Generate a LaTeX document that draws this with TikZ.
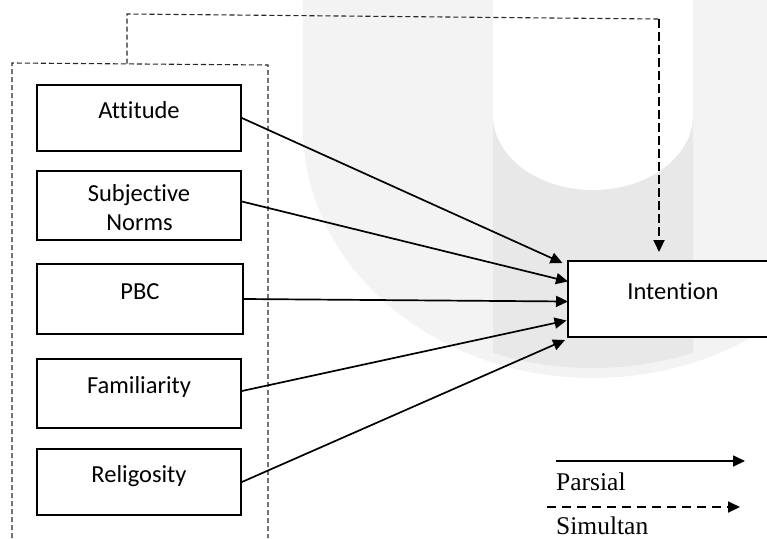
\documentclass[tikz,border=0pt]{standalone}
\usepackage{fontspec}
\setmainfont{Liberation Serif}
\newfontfamily\boxfont[Ligatures=NoCommon]{Carlito}
\usetikzlibrary{arrows.meta,calc}
\definecolor{wmlight}{RGB}{243,243,243}
\definecolor{wmdark}{RGB}{232,232,232}
\begin{document}
\begin{tikzpicture}[x=1pt,y=-1pt,
  boxnode/.style={draw=black, line width=1.8pt, fill=white, rectangle, inner sep=0pt, text height=8pt, text depth=8pt, font=\boxfont\fontsize{24.5}{28}\selectfont},
  lbl/.style={font=\boxfont\fontsize{24.5}{28}\selectfont, anchor=base, inner sep=0pt},
  conn/.style={line width=1.7pt, -{Triangle[length=12pt,width=11pt]}},
  frame/.style={line width=1.1pt, dash pattern=on 5pt off 3pt, black!85},
  simul/.style={line width=1.8pt, dash pattern=on 8.5pt off 4.5pt, -{Triangle[length=12pt,width=11pt]}},
  legdash/.style={line width=1.8pt, dash pattern=on 9pt off 6pt, -{Triangle[length=12pt,width=11pt]}},
  legtext/.style={font=\fontsize{25.5}{30}\selectfont, anchor=base west, inner sep=0pt}
]
\useasboundingbox (0,0) rectangle (767,538);
\clip (0,0) rectangle (767,538);
% watermark
\fill[wmlight] (303,0) -- (303,128) arc[start angle=180,end angle=0,x radius=290,y radius=250] -- (883,0) -- cycle;
\begin{scope}
\clip (493,0) rectangle (693,538);
\fill[wmdark] (308,0) -- (308,128) arc[start angle=180,end angle=0,x radius=285,y radius=240] -- (878,0) -- cycle;
\end{scope}
\fill[white] (493,0) -- (493,115) arc[start angle=180,end angle=0,x radius=100,y radius=75] -- (693,0) -- cycle;

% container
\draw[frame] (12,538) -- (12,63) -- (268,65) -- (268,538);

% boxes
\node[boxnode, minimum width=204pt, minimum height=66pt] (att) at (139,118) {Attitude};
\node[boxnode, minimum width=204pt, minimum height=69pt] (sn) at (139,205.5) {};
\node[lbl] (sn1) at (139,201.7) {Subjective};
\node[lbl] (sn2) at (139.5,230) {Norms};
\node[boxnode, minimum width=206pt, minimum height=70pt] (pbc) at (140,299) {PBC};
\node[boxnode, minimum width=204pt, minimum height=69pt] (fam) at (139,393.5) {Familiarity};
\node[boxnode, minimum width=204pt, minimum height=66pt] (rel) at (139,482) {Religosity};
\node[boxnode, minimum width=210pt, minimum height=76pt] (int) at (673,299) {Intention};

% arrow end points
\coordinate (e1) at (562.5,263);
\coordinate (e2) at (568,281.5);
\coordinate (e3) at (568,301.5);
\coordinate (e4) at (566.5,320.5);
\coordinate (e5) at (565,340);

\draw[conn] (att.east) -- (e1);
\draw[conn] ([yshift=4pt]sn.east) -- (e2);
\draw[conn] (pbc.east) -- (e3);
\draw[conn] ([yshift=2.5pt]fam.east) -- (e4);
\draw[conn] (rel.east) -- (e5);

% simultaneous connector
\coordinate (c0) at (127,63.5);
\coordinate (c1) at (127,14);
\coordinate (c2) at (659,19);
\coordinate (dtip) at (659,252);
\draw[frame] (c0) -- (c1) -- (c2);
\draw[simul] (c2) -- (dtip);

% legend
\coordinate (l1a) at (556,461);
\coordinate (l1b) at (745,461);
\draw[conn] (l1a) -- (l1b);
\node[legtext] (parsial) at (556,490.7) {Parsial};
\coordinate (l2a) at (547,507);
\coordinate (l2b) at (740,507);
\draw[legdash] (l2a) -- (l2b);
\node[legtext] (simultan) at (556,534) {Simultan};
\end{tikzpicture}
\end{document}
